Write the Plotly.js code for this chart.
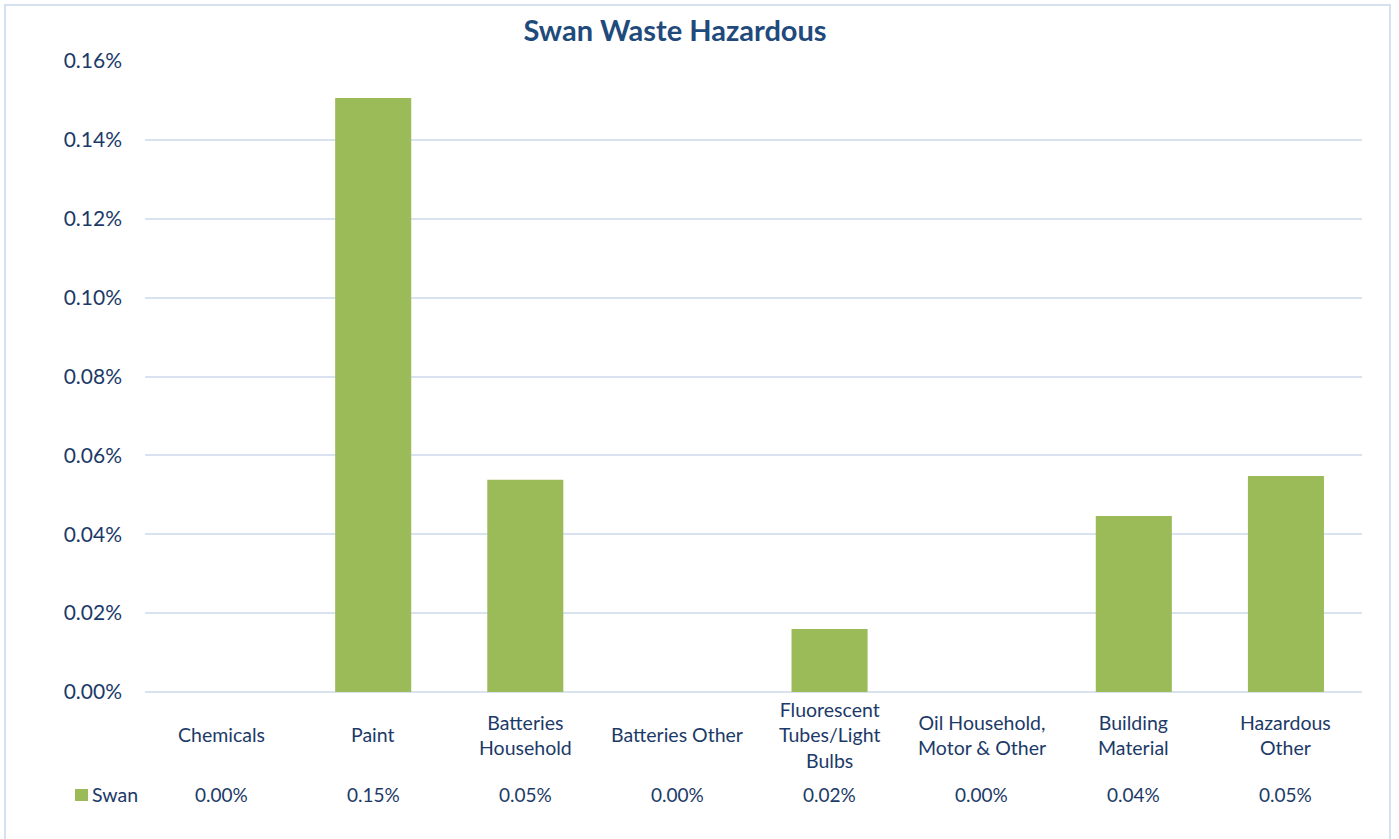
<!DOCTYPE html>
<html>
<head>
<meta charset="utf-8">
<script src="https://cdn.plot.ly/plotly-3.0.1.min.js"></script>
<style>
html,body{margin:0;padding:0;background:#fff;overflow:hidden;}
#frame{position:absolute;left:4px;top:4px;width:1387px;height:850px;border:2px solid #D6E1EF;box-sizing:border-box;pointer-events:none;z-index:5;}
#chart{position:absolute;left:0;top:0;width:1399px;height:839px;}
</style>
</head>
<body>
<div id="chart"></div>
<div id="frame"></div>
<script>
const categories = ["Chemicals","Paint","Batteries Household","Batteries Other","Fluorescent Tubes/Light Bulbs","Oil Household, Motor & Other","Building Material","Hazardous Other"];
const categoryLabels = ["Chemicals","Paint","Batteries<br>Household","Batteries Other","Fluorescent<br>Tubes/Light<br>Bulbs","Oil Household,<br>Motor & Other","Building<br>Material","Hazardous<br>Other"];
const swan = [0, 0.001506, 0.000538, 0, 0.00016, 0, 0.000446, 0.000548];
const seriesName = "Swan";

const textColor = "#1C3A68";
const font = "Lato, 'Open Sans', sans-serif";

const annotations = [];
categories.forEach((c, i) => {
  annotations.push({x: c, xref: 'x', y: -0.068, yref: 'paper', text: categoryLabels[i], showarrow: false,
    xanchor: 'center', yanchor: 'middle', font: {family: font, size: 19.5, color: textColor}});
  annotations.push({x: c, xref: 'x', y: -0.163, yref: 'paper', text: (swan[i]*100).toFixed(2) + '%', showarrow: false,
    xanchor: 'center', yanchor: 'middle', font: {family: font, size: 19, color: textColor}});
});
annotations.push({x: -0.0435, xref: 'paper', y: -0.163, yref: 'paper', text: seriesName, showarrow: false,
  xanchor: 'left', yanchor: 'middle', xshift: -2, font: {family: font, size: 19.5, color: textColor}});

const trace = {
  type: 'bar', x: categories, y: swan, name: seriesName,
  marker: {color: '#9BBB59'}, width: 0.5, hoverinfo: 'x+y'
};

const layout = {
  width: 1399, height: 839,
  margin: {l: 145, r: 37, t: 61, b: 147},
  paper_bgcolor: '#fff', plot_bgcolor: '#fff',
  showlegend: false,
  title: {text: '<b>Swan Waste Hazardous</b>', x: 0.4825, xanchor: 'center', y: 0.963, yanchor: 'middle',
    font: {family: font, size: 29, color: '#1F4A7C'}},
  xaxis: {showticklabels: false, showgrid: false, zeroline: false, showline: false, ticks: ''},
  yaxis: {range: [0, 0.0016], dtick: 0.0002, tickformat: '.2%', gridcolor: '#D9E3F0', gridwidth: 1.5,
    zeroline: true, zerolinecolor: '#D9E3F0', zerolinewidth: 1.5, showline: false, ticks: '', ticklabelstandoff: 22,
    tickfont: {family: font, size: 21, color: textColor}},
  shapes: [{type: 'rect', xref: 'paper', yref: 'paper', x0: -0.0575, x1: -0.0468, y0: -0.1727, y1: -0.1537,
    fillcolor: '#9BBB59', line: {width: 0}}],
  annotations: annotations
};

Plotly.newPlot('chart', [trace], layout, {displayModeBar: false, responsive: false});
</script>
</body>
</html>
